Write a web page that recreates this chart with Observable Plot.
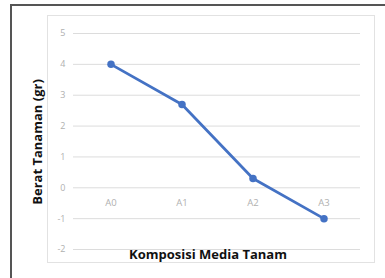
<!DOCTYPE html>
<html>
<head>
<meta charset="utf-8">
<script src="https://cdn.jsdelivr.net/npm/d3@7"></script>
<script src="https://cdn.jsdelivr.net/npm/@observablehq/plot@0.6"></script>
<style>
  html, body { margin: 0; padding: 0; background: #fff; }
  #wrap { position: relative; width: 385px; height: 278px; overflow: hidden; background: #fff; }
  #outer { position: absolute; left: 10px; top: 4px; width: 400px; height: 300px; border-left: 2px solid #555; border-top: 2px solid #555; box-sizing: border-box; }
  #inner { position: absolute; left: 47px; top: 15px; width: 328px; height: 248px; border: 1px solid #e2e2e2; box-sizing: border-box; }
  #chart { position: absolute; left: 0; top: 0; }
</style>
</head>
<body>
<div id="wrap">
  <div id="outer"></div>
  <div id="inner"></div>
  <div id="chart"></div>
</div>
<script>
const categories = ["A0", "A1", "A2", "A3"];
const values = [4.0, 2.7, 0.3, -1.0];
const yTicks = [-2, -1, 0, 1, 2, 3, 4, 5];
const xTitle = "Komposisi Media Tanam";
const yTitle = "Berat Tanaman (gr)";

const data = categories.map((c, i) => ({cat: c, val: values[i]}));
const font = "'Open Sans', 'Noto Sans', sans-serif";

const chart = Plot.plot({
  width: 385,
  height: 278,
  marginLeft: 73,
  marginRight: 25,
  marginTop: 33,
  marginBottom: 29,
  style: {fontFamily: font, background: "transparent", overflow: "visible"},
  x: {type: "band", domain: categories, padding: 0, axis: null},
  y: {domain: [-2, 5], axis: null},
  marks: [
    Plot.ruleY(yTicks, {stroke: "#dcdcdc", strokeWidth: 1}),
    Plot.text(yTicks, {frameAnchor: "left", y: d => d, text: d => String(d), textAnchor: "end", dx: -8, fill: "#b0b0b0", fontSize: 9}),
    Plot.text(categories, {x: d => d, y: () => 0, text: d => d, dy: 15, fill: "#b0b0b0", fontSize: 9.5}),
    Plot.line(data, {x: "cat", y: "val", stroke: "#4472C4", strokeWidth: 2.75}),
    Plot.dot(data, {x: "cat", y: "val", fill: "#4472C4", r: 3.75}),
  ]
});

const svg = d3.select(chart);
svg.append("text")
  .attr("x", 208).attr("y", 259)
  .attr("text-anchor", "middle")
  .attr("font-family", font).attr("font-weight", "bold").attr("font-size", 13)
  .attr("fill", "#111")
  .text(xTitle);
svg.append("text")
  .attr("transform", "translate(42,142) rotate(-90)")
  .attr("text-anchor", "middle")
  .attr("font-family", font).attr("font-weight", "bold").attr("font-size", 13)
  .attr("fill", "#111")
  .text(yTitle);

document.getElementById("chart").appendChild(chart);
</script>
</body>
</html>
